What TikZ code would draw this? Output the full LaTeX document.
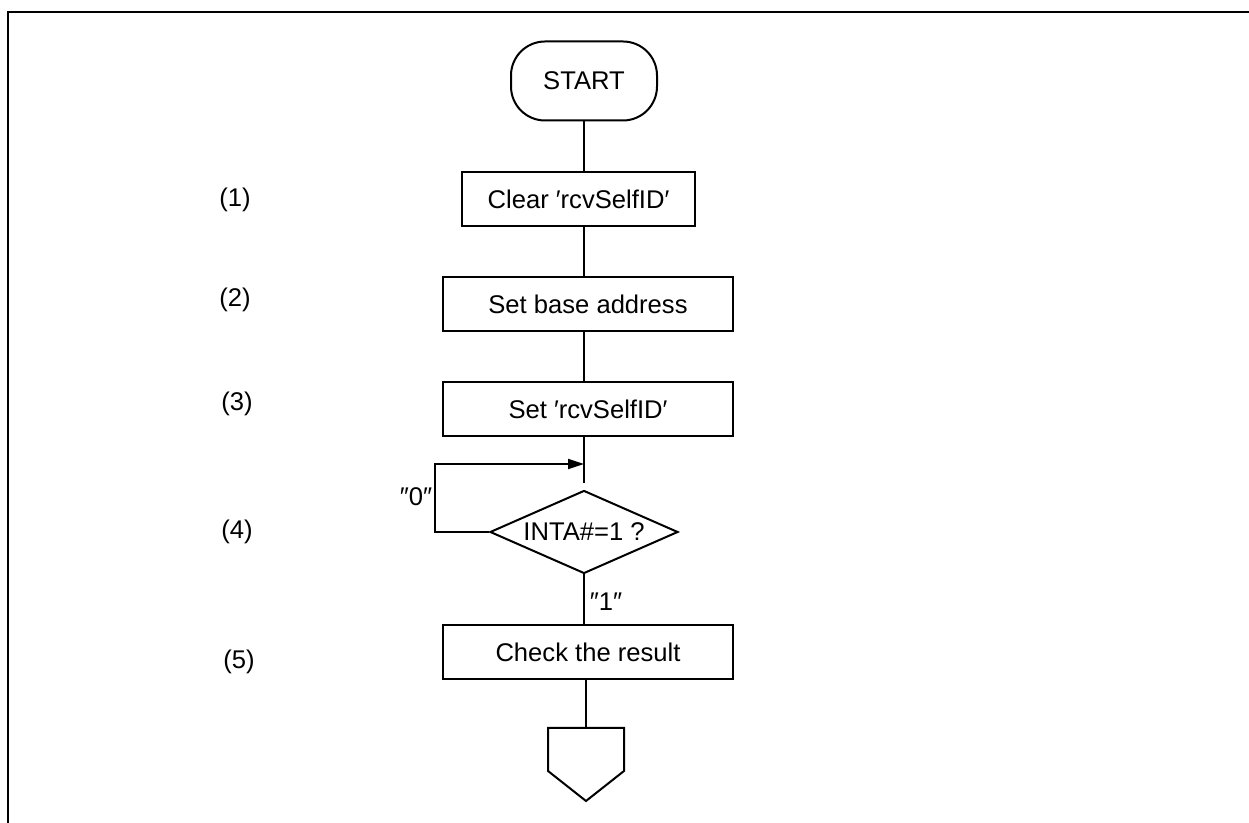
\documentclass[tikz,border=0pt]{standalone}
\usepackage{fontspec}
\setmainfont{Liberation Sans}
\usetikzlibrary{shapes.geometric,arrows.meta}

\begin{document}
\begin{tikzpicture}[x=0.5pt, y=0.5pt, line width=1pt,
        font=\fontsize{12.8}{15}\selectfont,
        terminal/.style={draw, rounded corners=17pt, minimum width=73pt, minimum height=39.5pt},
        process/.style={draw, minimum width=145pt, minimum height=27pt, inner sep=0pt},
        decision/.style={draw, diamond, aspect=2.27, minimum width=94pt, minimum height=41.5pt, inner sep=0pt}]
        \useasboundingbox (0,0) rectangle (1249,823);
        \draw[line width=1.3pt] (8,0) -- (8,811) -- (1249,811);

        \node[terminal] (start) at (584,742) {START};
        \node[process, minimum width=116.5pt] (clr) at (578.5,623.5) {Clear ′rcvSelfID′};
        \node[process] (base) at (588,518.5) {Set base address};
        \node[process] (set) at (588,413.5) {Set ′rcvSelfID′};
        \node[decision] (test) at (584,291) {INTA\#=1 ?};
        \node[process] (check) at (588,170.5) {Check the result};
        \coordinate (loop) at (584,359);
        \coordinate (off) at (586,95);

        \draw (start) -- (start |- clr.north);
        \draw (clr.south -| start) -- (start |- base.north);
        \draw (base.south -| start) -- (start |- set.north);
        \draw[shorten >=3pt] (set.south -| start) -- (test.north);
        \draw[-{Triangle[length=8pt,width=5pt]}] (test.west) -- ++(-54,0) |- (loop);
        \draw (test.south) -- (start |- check.north);
        \draw (check.south -| off) -- (off);
        \draw (off) -- ++(-38,0) -- ++(0,-43) -- ++(38,-30) -- ++(38,30) -- ++(0,43) -- cycle;

        \node at (235,623) {(1)}; \node at (235,523) {(2)};
        \node at (237,419) {(3)}; \node at (237,291) {(4)};
        \node at (239,161) {(5)};
        \node at (416,326) {″0″}; \node at (606,221) {″1″};
    \end{tikzpicture}
\end{document}
